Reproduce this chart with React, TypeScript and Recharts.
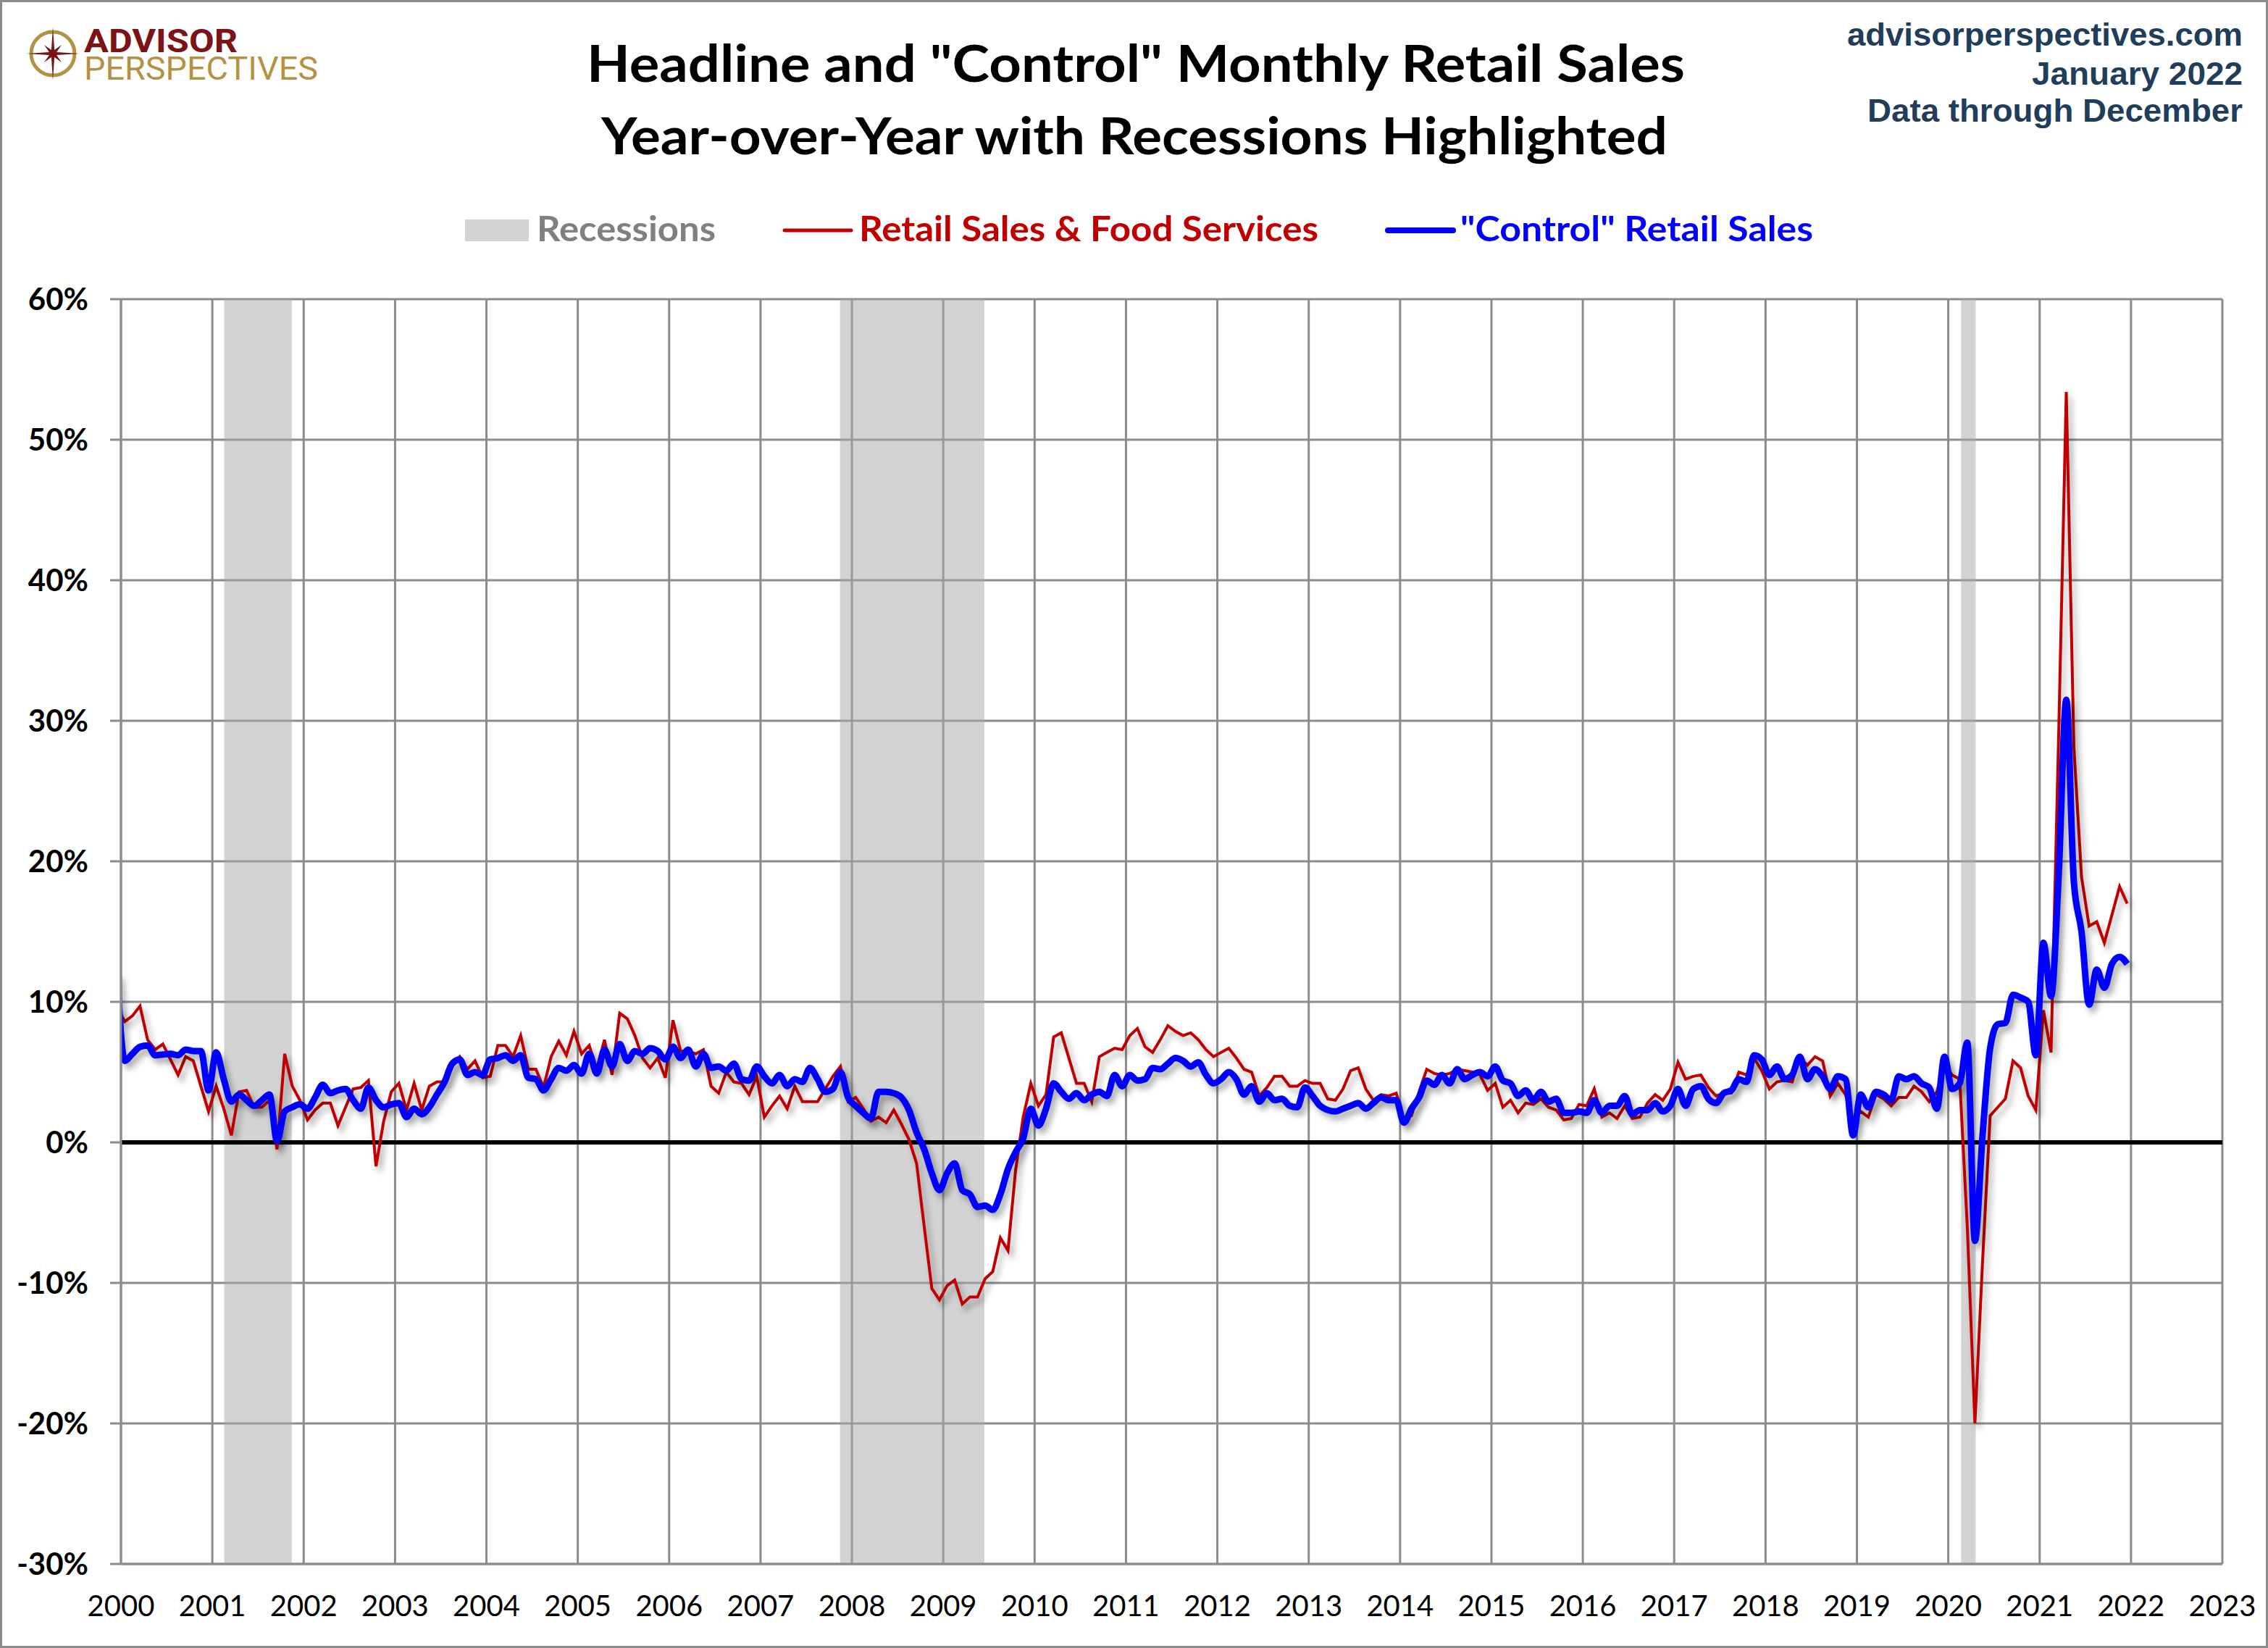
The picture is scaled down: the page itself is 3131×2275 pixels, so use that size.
import React from 'react';
import { LineChart, Line, XAxis, YAxis, CartesianGrid, ReferenceArea, ReferenceLine } from 'recharts';

// First data point is December 1999 (the chart clips it at the 2000 axis)
const FIRST_YEAR = 1999;
const FIRST_MONTH_INDEX = 11; // December

// Retail Sales & Food Services, year-over-year %
const headlineYoY = [
  9.6,
  8.6, 9.0, 9.7, 7.3, 6.6, 7.0, 5.9, 4.8, 6.1, 5.8, 4.0, 2.2,
  4.0, 2.4, 0.5, 3.6, 3.7, 2.5, 2.5, 3.0, -0.5, 6.3, 4.0, 3.0,
  1.6, 2.3, 2.8, 2.8, 1.2, 2.5, 3.8, 3.9, 4.4, -1.7, 1.5, 3.6,
  4.2, 2.3, 4.2, 2.3, 4.0, 4.3, 4.3, 5.5, 6.1, 5.2, 5.8, 4.6,
  4.7, 6.9, 6.9, 6.1, 7.6, 5.2, 5.2, 3.9, 6.1, 7.2, 6.2, 7.9,
  6.3, 6.9, 5.2, 7.3, 4.8, 9.2, 8.8, 7.6, 6.0, 5.3, 6.0, 4.6,
  8.7, 6.5, 6.5, 6.3, 6.6, 4.0, 3.5, 5.0, 4.3, 4.2, 3.4, 4.7,
  1.8, 2.6, 3.3, 2.4, 4.0, 2.9, 2.9, 2.9, 3.8, 4.7, 5.4, 2.9,
  3.2, 2.4, 1.5, 1.8, 1.4, 2.3, 1.3, 0.2, -1.5, -6.0, -10.4, -11.2,
  -10.2, -9.8, -11.5, -11.0, -11.0, -9.7, -9.2, -6.8, -7.7, -2.0, 1.8, 4.2,
  2.6, 3.4, 7.5, 7.8, 6.0, 4.2, 4.2, 2.9, 6.1, 6.4, 6.7, 6.6,
  7.6, 8.1, 6.8, 6.4, 7.3, 8.3, 7.9, 7.6, 7.8, 7.3, 6.6, 6.1,
  6.4, 6.7, 6.0, 5.2, 5.0, 3.3, 3.9, 4.7, 4.7, 4.0, 4.0, 4.4,
  4.2, 4.2, 3.1, 3.0, 3.8, 5.1, 5.3, 3.8, 3.0, 3.4, 3.3, 3.5,
  1.6, 1.9, 3.6, 5.2, 4.9, 4.8, 4.9, 5.2, 5.1, 5.0, 4.8, 3.7,
  4.2, 2.5, 3.0, 2.1, 2.8, 2.7, 3.1, 2.5, 2.3, 1.6, 1.7, 2.7,
  2.6, 3.8, 1.8, 2.1, 1.7, 2.6, 1.7, 1.8, 2.8, 3.4, 3.0, 3.8,
  5.7, 4.5, 4.7, 4.8, 3.9, 3.3, 3.5, 3.5, 5.0, 4.8, 6.0, 5.1,
  3.8, 4.3, 4.4, 4.3, 6.0, 5.5, 6.1, 5.8, 3.3, 4.2, 3.4, 1.5,
  2.2, 1.8, 3.4, 3.1, 2.6, 3.2, 3.2, 4.0, 3.6, 2.9, 3.6, 5.6,
  4.8, 4.5, -6.0, -20.0, -8.5, 1.9, 2.5, 3.1, 5.8, 5.3, 3.3, 2.3,
  9.4, 6.4, 29.0, 53.4, 28.1, 18.9, 15.4, 15.7, 14.2, 16.2, 18.2, 17.0,
];

// "Control" Retail Sales, year-over-year %
const controlYoY = [
  12.0,
  5.8, 6.3, 6.8, 6.9, 6.2, 6.25, 6.3, 6.2, 6.6, 6.5, 6.5, 3.7,
  6.4, 4.5, 2.9, 3.4, 3.0, 2.6, 3.0, 3.4, 0.1, 2.2, 2.5, 2.7,
  2.4, 3.2, 4.1, 3.5, 3.7, 3.8, 3.0, 2.4, 3.9, 3.0, 2.5, 2.7,
  2.8, 1.8, 2.4, 2.0, 2.5, 3.4, 4.3, 5.6, 5.9, 4.8, 5.0, 4.8,
  5.9, 6.0, 6.2, 5.8, 6.2, 4.6, 4.5, 3.7, 4.5, 5.3, 5.1, 5.5,
  4.9, 6.3, 4.9, 6.6, 5.4, 7.0, 5.8, 6.5, 6.3, 6.7, 6.5, 5.9,
  6.8, 6.0, 6.6, 5.4, 6.3, 5.3, 5.4, 5.1, 5.6, 4.5, 4.4, 5.4,
  4.7, 4.2, 4.8, 4.0, 4.5, 4.3, 5.3, 4.5, 3.6, 3.8, 5.0, 3.2,
  2.6, 2.1, 1.7, 3.6, 3.6, 3.5, 3.2, 2.3, 0.7, -0.5, -2.2, -3.4,
  -2.2, -1.5, -3.4, -3.7, -4.6, -4.5, -4.8, -3.7, -1.9, -0.7, 0.3, 2.4,
  1.2, 2.4, 4.2, 3.6, 3.1, 3.5, 3.0, 3.4, 3.6, 3.3, 4.8, 4.0,
  4.8, 4.4, 4.5, 5.3, 5.2, 5.6, 6.0, 5.8, 5.4, 5.7, 4.8, 4.2,
  4.5, 5.0, 4.5, 3.4, 4.0, 2.9, 3.5, 3.0, 3.1, 2.6, 2.5, 3.9,
  3.3, 2.6, 2.3, 2.2, 2.4, 2.6, 2.8, 2.4, 2.8, 3.2, 3.0, 3.0,
  1.4, 2.4, 3.2, 4.4, 4.1, 4.8, 4.2, 5.2, 4.5, 4.8, 5.0, 4.7,
  5.4, 4.4, 4.2, 3.3, 3.7, 3.0, 3.6, 2.9, 3.1, 2.1, 2.1, 2.2,
  2.1, 3.0, 2.1, 2.6, 2.6, 3.3, 2.0, 2.3, 2.3, 2.8, 2.2, 2.6,
  3.8, 2.6, 3.8, 4.0, 3.1, 2.8, 3.5, 3.7, 4.5, 4.3, 6.2, 5.9,
  4.8, 5.4, 4.5, 4.8, 6.1, 4.5, 5.2, 4.7, 3.8, 4.7, 4.5, 0.5,
  3.4, 2.5, 3.6, 3.4, 3.0, 4.7, 4.5, 4.7, 4.2, 3.9, 2.4, 6.1,
  3.8, 4.2, 7.1, -7.0, 0.5, 6.7, 8.4, 8.5, 10.5, 10.3, 10.0, 6.2,
  14.2, 10.4, 19.0, 31.5, 18.5, 15.0, 9.8, 12.3, 11.0, 12.7, 13.2, 12.7,
];

// Recession spans (decimal years, as drawn)
const recessionStarts = [2001.13, 2007.87, 2020.14];
const recessionEnds = [2001.87, 2009.45, 2020.3];

const yearTicks = [
  2000, 2001, 2002, 2003, 2004, 2005, 2006, 2007, 2008, 2009, 2010, 2011,
  2012, 2013, 2014, 2015, 2016, 2017, 2018, 2019, 2020, 2021, 2022, 2023,
];
const pctTicks = [-30, -20, -10, 0, 10, 20, 30, 40, 50, 60];

const titleLines = ['Headline and "Control" Monthly Retail Sales', 'Year-over-Year with Recessions Highlighted'];
const sourceLines = ['advisorperspectives.com', 'January 2022', 'Data through December'];
const legendLabels = ['Recessions', 'Retail Sales & Food Services', '"Control" Retail Sales'];
const logoWords = ['ADVISOR', 'PERSPECTIVES'];

const data = headlineYoY.map((h, i) => ({
  t: FIRST_YEAR + (FIRST_MONTH_INDEX + i + 0.5) / 12,
  headline: h,
  control: controlYoY[i],
}));

const W = 3131;
const H = 2275;
const GRID = '#8c8c8c';
const RED = '#c00000';
const BLUE = '#0000ff';
const NAVY = '#203e5c';

const css = `
.series-line .recharts-line-curve { filter: drop-shadow(5px 7px 4px rgba(0,0,0,0.32)); }
`;

function starPoints(cx: number, cy: number): string {
  const pts: string[] = [];
  for (let k = 0; k < 16; k++) {
    const ang = (k * Math.PI) / 8 - Math.PI / 2;
    let r: number;
    if (k % 2 === 1) r = 5.5;
    else if (k % 4 === 0) r = 37;
    else r = 17;
    pts.push(`${(cx + r * Math.cos(ang)).toFixed(1)},${(cy + r * Math.sin(ang)).toFixed(1)}`);
  }
  return pts.join(' ');
}

function ZeroLine(p: any) {
  return <line x1={p.x1} y1={p.y1} x2={p.x2} y2={p.y2} stroke="#000" strokeWidth={6} />;
}

function Overlay() {
  return (
    <svg
      width={W}
      height={H}
      style={{ position: 'absolute', left: 0, top: 0, pointerEvents: 'none' }}
    >
      {/* logo */}
      <circle cx={73} cy={74} r={30} fill="none" stroke="#b39245" strokeWidth={5} />
      <polygon points={starPoints(73, 74)} fill="#7b1416" />
      <text fontFamily="Roboto, 'Open Sans', sans-serif" fontSize={44}>
        <tspan x={116} y={72} fontWeight={700} fill="#7b1416" textLength={212}
          lengthAdjust="spacingAndGlyphs">{logoWords[0]}</tspan>
        <tspan x={116} y={110} fontWeight={400} fill="#b39245" textLength={323}
          lengthAdjust="spacingAndGlyphs">{logoWords[1]}</tspan>
      </text>

      {/* title */}
      <text x={1568} y={113} textAnchor="middle" fontFamily="Lato, 'Noto Sans', sans-serif" fontWeight={700}
        fontSize={70} fill="#000" textLength={1516} lengthAdjust="spacingAndGlyphs">{titleLines[0]}</text>
      <text x={1566} y={213} textAnchor="middle" fontFamily="Lato, 'Noto Sans', sans-serif" fontWeight={700}
        fontSize={70} fill="#000" textLength={1472} lengthAdjust="spacingAndGlyphs">{titleLines[1]}</text>

      {/* source block */}
      <text x={3096} y={63} textAnchor="end" fontFamily="'Liberation Sans', Arial, sans-serif" fontWeight={700}
        fontSize={45} fill={NAVY} textLength={546} lengthAdjust="spacingAndGlyphs">{sourceLines[0]}</text>
      <text x={3096} y={117} textAnchor="end" fontFamily="'Liberation Sans', Arial, sans-serif" fontWeight={700}
        fontSize={45} fill={NAVY} textLength={291} lengthAdjust="spacingAndGlyphs">{sourceLines[1]}</text>
      <text x={3096} y={168} textAnchor="end" fontFamily="'Liberation Sans', Arial, sans-serif" fontWeight={700}
        fontSize={45} fill={NAVY} textLength={518} lengthAdjust="spacingAndGlyphs">{sourceLines[2]}</text>

      {/* legend */}
      <rect x={642} y={303} width={88} height={30} fill="#d3d3d3" />
      <text x={741} y={333} fontFamily="Lato, 'Noto Sans', sans-serif" fontWeight={700} fontSize={47}
        fill="#808080" textLength={247} lengthAdjust="spacingAndGlyphs">{legendLabels[0]}</text>
      <line x1={1083} y1={318} x2={1175} y2={318} stroke={RED} strokeWidth={5} strokeLinecap="round" />
      <text x={1186} y={333} fontFamily="Lato, 'Noto Sans', sans-serif" fontWeight={700} fontSize={47}
        fill={RED} textLength={634} lengthAdjust="spacingAndGlyphs">{legendLabels[1]}</text>
      <line x1={1916} y1={318} x2={2006} y2={318} stroke={BLUE} strokeWidth={8} strokeLinecap="round" />
      <text x={2016} y={333} fontFamily="Lato, 'Noto Sans', sans-serif" fontWeight={700} fontSize={47}
        fill={BLUE} textLength={487} lengthAdjust="spacingAndGlyphs">{legendLabels[2]}</text>
    </svg>
  );
}

export default function App() {
  return (
    <div
      style={{
        position: 'absolute',
        left: 0,
        top: 0,
        width: W,
        height: H,
        background: '#fff',
        overflow: 'hidden',
      }}
    >
      <style>{css}</style>
      <Overlay />
      <div style={{ position: 'absolute', left: 0, top: 0 }}>
        <LineChart
          width={W}
          height={H}
          data={data}
          margin={{ top: 413, right: 63, bottom: 16, left: 0 }}
        >
          <CartesianGrid stroke={GRID} strokeWidth={3} />
          <XAxis
            type="number"
            dataKey="t"
            domain={[2000, 2023]}
            allowDataOverflow
            ticks={yearTicks}
            interval={0}
            height={100}
            tickLine={false}
            tickSize={0}
            tickMargin={44}
            axisLine={{ stroke: GRID, strokeWidth: 3 }}
            tick={{ fontFamily: 'Lato, sans-serif', fontSize: 40, fontWeight: 400, fill: '#000' }}
            tickFormatter={(v: number) => String(v)}
          />
          <YAxis
            type="number"
            domain={[-30, 60]}
            allowDataOverflow
            ticks={pctTicks}
            interval={0}
            width={167}
            tickSize={15}
            tickMargin={30}
            tickLine={{ stroke: GRID, strokeWidth: 3 }}
            axisLine={{ stroke: GRID, strokeWidth: 3 }}
            tick={{ fontFamily: 'Lato, sans-serif', fontSize: 42, fontWeight: 700, fill: '#000' }}
            tickFormatter={(v: number) => `${v}%`}
          />
          {recessionStarts.map((s, i) => (
            <ReferenceArea
              key={`rec-${i}`}
              x1={s}
              x2={recessionEnds[i]}
              y1={-30}
              y2={60}
              fill="#a7a7a7"
              fillOpacity={0.5}
              stroke="none"
              ifOverflow="hidden"
            />
          ))}
          <ReferenceLine y={0} stroke="#000" strokeWidth={6} shape={ZeroLine} />
          <Line
            className="series-line"
            type="linear"
            dataKey="headline"
            stroke={RED}
            strokeWidth={4}
            dot={false}
            activeDot={false}
            isAnimationActive={false}
          />
          <Line
            className="series-line"
            type="monotone"
            dataKey="control"
            stroke={BLUE}
            strokeWidth={9}
            dot={false}
            activeDot={false}
            isAnimationActive={false}
            strokeLinejoin="round"
          />
        </LineChart>
      </div>
      <div
        style={{
          position: 'absolute',
          left: 0,
          top: 0,
          width: W,
          height: H,
          boxSizing: 'border-box',
          border: `3px solid ${GRID}`,
          pointerEvents: 'none',
        }}
      />
    </div>
  );
}
